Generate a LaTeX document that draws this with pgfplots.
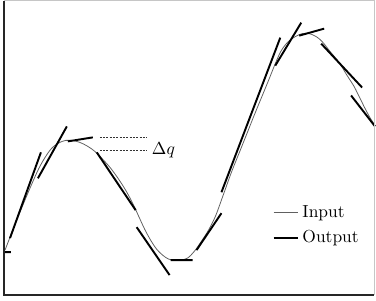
\documentclass[border=0pt]{standalone}
\usepackage{pgfplots}
\pgfplotsset{compat=1.18}
\begin{document}
\begin{tikzpicture}
\begin{axis}[
  scale only axis, width=212.1pt, height=168.7pt,
  xmin=4, xmax=375, ymin=0, ymax=295, y dir=reverse,
  axis lines=none, xtick=\empty, ytick=\empty,
  clip=false,
  unbounded coords=jump,
  legend style={draw=none, fill=none, inner sep=0pt, at={(0.725,0.237)}, anchor=west, font=\normalsize, row sep=2pt},
  legend cell align=left,
  legend image code/.code={\draw[#1] (0pt,0pt) -- (14pt,0pt);},
]
% Input (thin gray curve)
\addplot[gray!75!black, line width=0.45pt, smooth, tension=0.55] coordinates {
(5,250) (12,232) (20,212) (30,188) (40,166) (50,150) (58,143) (66,140) (72,140)
(80,142) (88,146) (95,151) (103,159) (111,168) (119,179) (126,190) (133,203)
(139,216) (145,229) (151,240) (157,249) (163,255) (169,259) (175,260) (181,260)
(188,258) (195,251) (202,241) (209,230) (216,216) (223,197) (232,172) (240,152)
(248,132) (256,112) (263,95) (270,78) (276,63) (282,50) (289,41) (296,36) (303,33)
(310,33) (317,36) (323,41) (331,51) (340,62) (348,75) (355,86) (361,98) (367,110)
(372,119) (376,125)
};
\addlegendentry{Input}
% Output (thick black tangent segments)
\addplot[black, line width=1.1pt] coordinates {
(5,252) (11,252) (11,nan)
(10,238) (41,152) (41,nan)
(38,178) (67,126) (67,nan)
(68,141) (93,137) (93,nan)
(97,152) (136,210) (136,nan)
(137,227) (170,275) (170,nan)
(171,260) (193,260) (193,nan)
(197,250) (222,213) (222,nan)
(222,192) (281,37) (281,nan)
(276,65) (302,22) (302,nan)
(300,35) (325,28) (325,nan)
(322,43) (363,87) (363,nan)
(352,95) (376,126)
};
\addlegendentry{Output}
% Delta q annotation
\addplot[black!80, line width=0.4pt, dash pattern=on 1.2pt off 0.7pt, forget plot] coordinates {
(100,137) (147,137) (147,nan) (100,150) (147,150)
};
\node[anchor=base west, inner sep=0pt] at (axis cs:152,154) {$\Delta q$};
% frame
\draw[black!85, line width=0.8pt] (rel axis cs:0,1) -- (rel axis cs:0,0) -- (rel axis cs:1,0);
\draw[gray!45, line width=0.6pt] (rel axis cs:0,1) -- (rel axis cs:1,1) -- (rel axis cs:1,0);
\end{axis}
\path (current axis.south west) ++(-2.3pt,-3.4pt) (current axis.north east) ++(0.6pt,0pt);
\end{tikzpicture}
\end{document}
